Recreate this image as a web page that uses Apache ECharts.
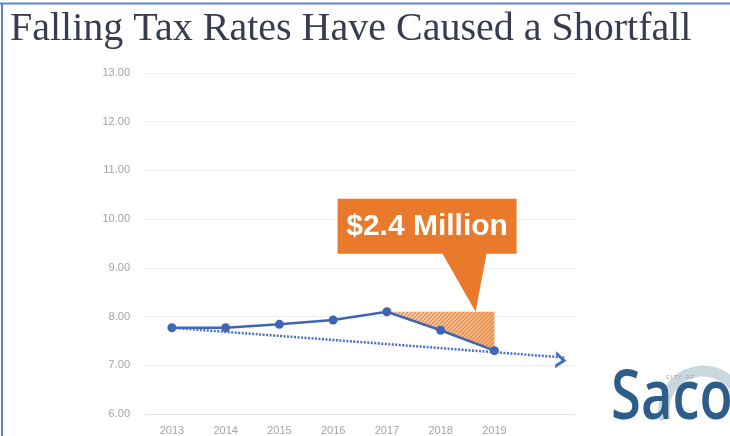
<!DOCTYPE html>
<html>
<head>
<meta charset="utf-8">
<script src="https://cdn.jsdelivr.net/npm/echarts@6/dist/echarts.min.js"></script>
<style>
  html, body { margin: 0; padding: 0; background: #ffffff; }
  #chart { width: 730px; height: 436px; }
</style>
</head>
<body>
<div id="chart"></div>
<script>
// Tax rate by year (per $1,000 valuation)
var years = ['2013', '2014', '2015', '2016', '2017', '2018', '2019', ''];
var yearValues = [2013, 2014, 2015, 2016, 2017, 2018, 2019];
var taxRates = [7.77, 7.77, 7.84, 7.93, 8.10, 7.72, 7.30];

// Downward trend drawn from the first year out past the last one
var trendStart = [2013, 7.77];
var trendEnd = [2020.3, 7.16];

// Shortfall wedge: held at the 2017 level through 2019
var shortfallYears = [2017, 2018, 2019];
var calloutAnchor = [2018.65, 8.10];
var calloutText = '$2.4 Million';

var yTicks = { min: 6, max: 13, interval: 1 };

var BLUE = '#4065b3';
var ORANGE = '#e97a2c';

// Diagonal hatch tile used to fill the shortfall wedge
function hatchTile() {
  var c = document.createElement('canvas');
  c.width = 4; c.height = 4;
  var g = c.getContext('2d');
  g.strokeStyle = 'rgba(234,118,40,0.9)';
  g.lineWidth = 1.1;
  g.beginPath();
  g.moveTo(0, 4); g.lineTo(4, 0);
  g.moveTo(-1, 1); g.lineTo(1, -1);
  g.moveTo(3, 5); g.lineTo(5, 3);
  g.stroke();
  return c;
}
var tile = hatchTile();

var linePoints = yearValues.map(function (y, i) { return [y, taxRates[i]]; });

function shortfallPolygon() {
  var top = taxRates[yearValues.indexOf(shortfallYears[0])];
  var pts = [[shortfallYears[0], top], [shortfallYears[2], top]];
  for (var k = shortfallYears.length - 1; k >= 0; k--) {
    pts.push([shortfallYears[k], taxRates[yearValues.indexOf(shortfallYears[k])]]);
  }
  return pts;
}

var chart = echarts.init(document.getElementById('chart'), null, { renderer: 'canvas' });

chart.setOption({
  backgroundColor: '#ffffff',
  animation: false,
  title: {
    text: 'Falling Tax Rates Have Caused a Shortfall',
    left: 5,
    top: 4,
    textStyle: {
      fontFamily: 'Liberation Serif',
      fontWeight: 'normal',
      fontSize: 40,
      color: '#383c50'
    }
  },
  grid: { left: 145, right: 155, top: 73, bottom: 20, containLabel: false },
  xAxis: [
    {
      type: 'category',
      data: years,
      boundaryGap: true,
      axisLine: { show: true, lineStyle: { color: '#e4e4e4', width: 1 } },
      axisTick: { show: false },
      axisLabel: { color: '#a3a3a3', fontSize: 11, fontFamily: 'Liberation Sans', margin: 11 }
    },
    {
      type: 'value',
      min: 2012.5,
      max: 2020.5,
      show: false
    }
  ],
  yAxis: {
    type: 'value',
    min: yTicks.min,
    max: yTicks.max,
    interval: yTicks.interval,
    axisLine: { show: false },
    axisTick: { show: false },
    splitLine: { lineStyle: { color: '#efefef', width: 1 } },
    axisLabel: {
      color: '#a3a3a3', fontSize: 11, fontFamily: 'Liberation Sans', margin: 15,
      formatter: function (v) { return v.toFixed(2); }
    }
  },
  series: [
    {
      // hatched shortfall wedge
      type: 'custom',
      xAxisIndex: 1,
      z: 2,
      data: [0],
      renderItem: function (params, api) {
        var pts = shortfallPolygon().map(function (p) { return api.coord(p); });
        return {
          type: 'group',
          children: [
            {
              type: 'polygon',
              shape: { points: pts },
              style: {
                fill: new echarts.graphic.LinearGradient(0, 0, 1, 0, [
                  { offset: 0, color: 'rgba(250,218,195,0.95)' },
                  { offset: 1, color: 'rgba(245,178,118,0.95)' }
                ])
              }
            },
            {
              type: 'polygon',
              shape: { points: pts },
              style: { fill: { image: tile, repeat: 'repeat' } }
            }
          ]
        };
      }
    },
    {
      // trend arrow
      type: 'line',
      xAxisIndex: 1,
      data: [],
      z: 3,
      markLine: {
        silent: true,
        symbol: ['none', 'path://M0,10 L8,0 L16,10 L12.5,10 L8,4.5 L3.5,10 Z'],
        symbolSize: [17, 11],
        symbolOffset: [0, 3],
        label: { show: false },
        lineStyle: { color: '#4b6fc0', type: [2, 1.5], width: 2.5 },
        data: [[{ coord: trendStart }, { coord: trendEnd }]]
      }
    },
    {
      // tax rate line
      type: 'line',
      xAxisIndex: 1,
      data: linePoints,
      z: 4,
      symbol: 'circle',
      symbolSize: 9,
      lineStyle: { color: BLUE, width: 2.5 },
      itemStyle: { color: BLUE }
    },
    {
      // callout box pointing at the wedge
      type: 'custom',
      xAxisIndex: 1,
      z: 6,
      data: [calloutAnchor],
      renderItem: function (params, api) {
        var tip = api.coord([api.value(0), api.value(1)]);
        var tx = tip[0], ty = tip[1];
        var L = tx - 138, R = tx + 41, T = ty - 113, B = ty - 58;
        return {
          type: 'group',
          children: [
            {
              type: 'polygon',
              shape: {
                points: [[L, T], [R, T], [R, B], [tx + 11, B], [tx, ty], [tx - 33, B], [L, B]]
              },
              style: { fill: ORANGE }
            },
            {
              type: 'text',
              style: {
                text: calloutText,
                x: (L + R) / 2,
                y: (T + B) / 2 + 1,
                align: 'center',
                verticalAlign: 'middle',
                fill: '#ffffff',
                font: 'bold 30px "Liberation Sans", Arial, sans-serif'
              }
            }
          ]
        };
      }
    }
  ],
  graphic: [
    // slide frame
    { type: 'line', shape: { x1: 0, y1: 3.5, x2: 730, y2: 3.5 }, style: { stroke: '#5b86c6', lineWidth: 2 } },
    { type: 'line', shape: { x1: 2, y1: 3, x2: 2, y2: 436 }, style: { stroke: '#5b86c6', lineWidth: 2 } },
    // city logo
    {
      type: 'arc',
      shape: { cx: 703, cy: 410, r: 39, startAngle: Math.PI * 0.92, endAngle: Math.PI * 2.08 },
      style: { stroke: '#cad7de', lineWidth: 11, fill: null },
      z: 10
    },
    {
      type: 'text',
      x: 611, y: 434,
      scaleX: 0.8,
      style: {
        text: 'Saco',
        font: '600 68px "Open Sans", "Noto Sans", sans-serif',
        fill: '#2c5d8b',
        verticalAlign: 'bottom'
      },
      z: 11
    },
    {
      type: 'text',
      x: 680, y: 378,
      style: {
        text: 'C I T Y   O F',
        font: '5px "Liberation Sans", sans-serif',
        fill: '#8a9aa6',
        align: 'center',
        verticalAlign: 'middle'
      },
      z: 11
    }
  ]
});
</script>
</body>
</html>
